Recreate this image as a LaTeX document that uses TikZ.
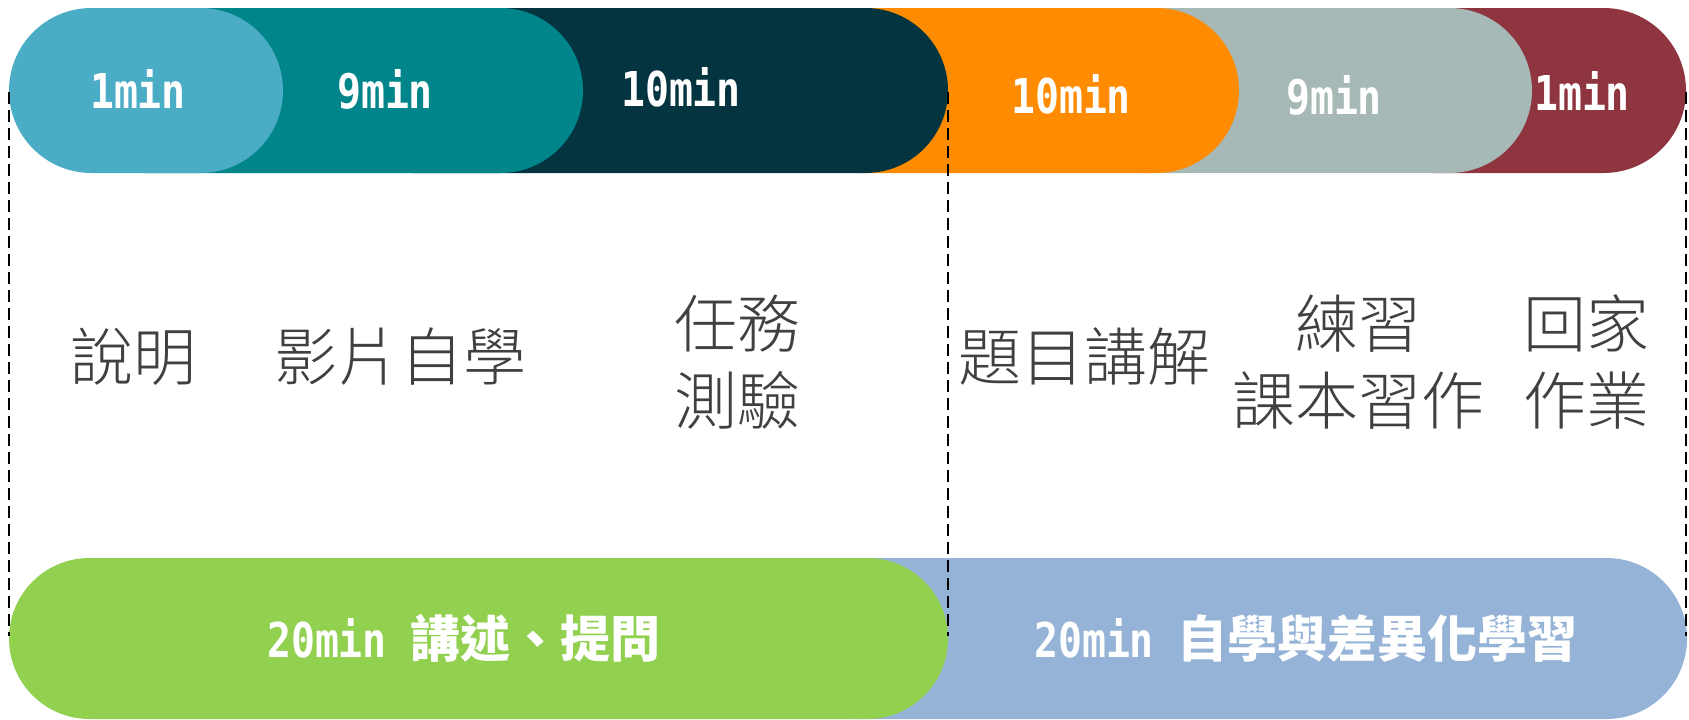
\documentclass[tikz,border=0pt]{standalone}
\usepackage{fontspec}
\newfontfamily\pillfont{Noto Sans CJK TC}
\newfontfamily\minfont[FakeStretch=0.83]{DejaVu Sans Mono}
\newfontfamily\lblfont[UprightFont={* Light}]{Noto Sans CJK TC}
\usetikzlibrary{shapes.misc}

\definecolor{cyanpill}{HTML}{4BACC6}
\definecolor{tealpill}{HTML}{00868A}
\definecolor{navypill}{HTML}{033440}
\definecolor{orangepill}{HTML}{FF8C00}
\definecolor{graypill}{HTML}{A6B9B7}
\definecolor{maroonpill}{HTML}{8F3540}
\definecolor{greenpill}{HTML}{92D050}
\definecolor{bluepill}{HTML}{95B3D7}
\definecolor{lblgray}{HTML}{404040}

\newcommand{\cjkbold}[1]{{\pillfont\bfseries\fontsize{50}{50}\selectfont #1}}

\begin{document}
\begin{tikzpicture}[x=1pt,y=-1pt,
		pill/.style={rounded rectangle,inner sep=0pt,minimum height=165pt},
		lowpill/.style={rounded rectangle,inner sep=0pt,minimum height=161pt},
		mins/.style={inner sep=0pt,text=white,font=\minfont\bfseries\fontsize{48}{48}\selectfont},
		task/.style={inner sep=0pt,align=center,text=lblgray,font=\lblfont\fontsize{63}{77}\selectfont},
		guide/.style={black,line width=1.8pt,dash pattern=on 12pt off 6pt}]
		\useasboundingbox (0,0) rectangle (1689,720);
		% top row, drawn back to front
		\node[pill,fill=maroonpill,minimum width=336pt](p6) at (1518,90.5) {};
		\node[pill,fill=graypill,minimum width=472pt](p5) at (1296,90.5) {};
		\node[pill,fill=orangepill,minimum width=459pt](p4) at (1009.5,90.5) {};
		\node[pill,fill=navypill,minimum width=618pt](p3) at (639,90.5) {};
		\node[pill,fill=tealpill,minimum width=523pt](p2) at (321.5,90.5) {};
		\node[pill,fill=cyanpill,minimum width=274pt](p1) at (146,90.5) {};
		\node[mins](t1) at (138,89) {1min};
		\node[mins](t2) at (385,89) {9min};
		\node[mins](t3) at (681,87) {10min};
		\node[mins](t4) at (1071,94) {10min};
		\node[mins](t5) at (1334,95) {9min};
		\node[mins](t6) at (1582,91) {1min};
		% bottom row
		\node[lowpill,fill=bluepill,minimum width=917pt](q2) at (1228.5,638.5) {};
		\node[lowpill,fill=greenpill,minimum width=939pt](q1) at (478.5,638.5) {};
		\node[mins,anchor=base](b1) at (464,657) {20min \cjkbold{講述、提問}};
		\node[mins,anchor=base](b2) at (1306,657) {20min \cjkbold{自學與差異化學習}};
		% tasks
		\node[task](m1) at (133,357) {說明};
		\node[task](m2) at (400,357) {影片自學};
		\node[task](m3) at (737,362) {任務\\測驗};
		\node[task](m4) at (1084,356) {題目講解};
		\node[task](m5) at (1358,362) {練習\\課本習作};
		\node[task](m6) at (1586,362) {回家\\作業};
		% dashed guides
		\coordinate (g1) at (9,92);
		\coordinate (h1) at (9,636);
		\coordinate (g2) at (948,92);
		\coordinate (h2) at (948,636);
		\coordinate (g3) at (1686,92);
		\coordinate (h3) at (1686,636);
		\draw [guide] (g1) -- (h1);
		\draw [guide] (g2) -- (h2);
		\draw [guide] (g3) -- (h3);
	\end{tikzpicture}
\end{document}
